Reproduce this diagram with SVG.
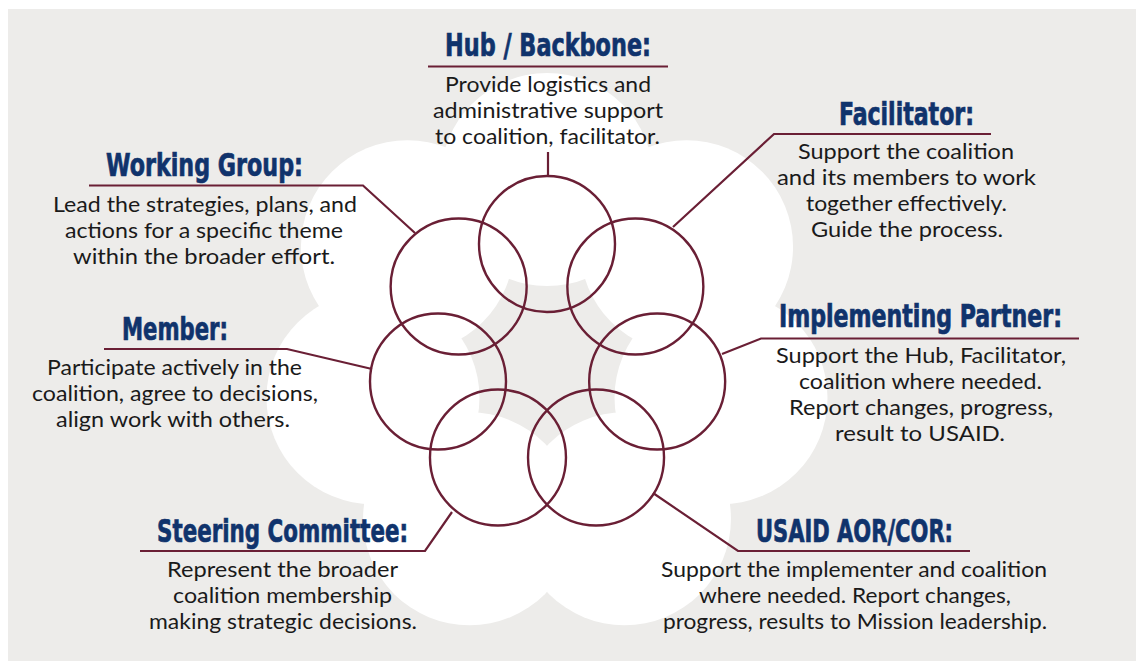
<svg xmlns="http://www.w3.org/2000/svg" width="1136" height="662" viewBox="0 0 1136 662">
<style>
.t{font-family:'DejaVu Sans Condensed','DejaVu Sans',sans-serif;font-stretch:condensed;font-weight:bold;font-size:32px;fill:#10336c;stroke:#10336c;stroke-width:0.7}
.b{font-family:Lato,'Open Sans',sans-serif;font-size:22px;fill:#1a1a1a}
.ln{fill:none;stroke:#6a1f35;stroke-width:2.2}
.c{fill:none;stroke:#6a1f35;stroke-width:2.4}
.p{fill:#ffffff}
</style>
<rect x="8" y="9" width="1128" height="652" fill="#edecea"/>
<g id="flower">
<circle class="p" cx="547" cy="179.5" r="106.5"/>
<circle class="p" cx="686.56" cy="246.71" r="106.5"/>
<circle class="p" cx="721.02" cy="397.72" r="106.5"/>
<circle class="p" cx="624.45" cy="518.82" r="106.5"/>
<circle class="p" cx="469.55" cy="518.82" r="106.5"/>
<circle class="p" cx="372.98" cy="397.72" r="106.5"/>
<circle class="p" cx="407.44" cy="246.71" r="106.5"/>
</g>
<g id="connectors">
<polyline class="ln" points="428,66.5 668,66.5"/>
<line class="ln" x1="548" y1="152" x2="548" y2="176"/>
<polyline class="ln" points="89,185.5 363,185.5 415,233"/>
<polyline class="ln" points="991,134 774,134 673,227"/>
<polyline class="ln" points="104,349 287,349 372,369"/>
<polyline class="ln" points="1079,338.5 761,338.5 722,354"/>
<polyline class="ln" points="140,551 425,551 452,512"/>
<polyline class="ln" points="970,551 738,551 653,493"/>
</g>
<g id="rings">
<circle class="c" cx="547" cy="244" r="68"/>
<circle class="c" cx="635.35" cy="286.55" r="68"/>
<circle class="c" cx="657.17" cy="381.5" r="68"/>
<circle class="c" cx="596.03" cy="457.5" r="68"/>
<circle class="c" cx="497.97" cy="457.5" r="68"/>
<circle class="c" cx="438" cy="381.5" r="68"/>
<circle class="c" cx="458.65" cy="286.55" r="68"/>
</g>
<g id="hub">
<text class="t" x="445" y="56" textLength="206" lengthAdjust="spacingAndGlyphs">Hub / Backbone:</text>
<text class="b" x="445" y="92" textLength="206" lengthAdjust="spacingAndGlyphs">Provide logistics and</text>
<text class="b" x="433" y="118" textLength="230" lengthAdjust="spacingAndGlyphs">administrative support</text>
<text class="b" x="435" y="144" textLength="225" lengthAdjust="spacingAndGlyphs">to coalition, facilitator.</text>
</g>
<g id="working-group">
<text class="t" x="106" y="176" textLength="197" lengthAdjust="spacingAndGlyphs">Working Group:</text>
<text class="b" x="53" y="212" textLength="304" lengthAdjust="spacingAndGlyphs">Lead the strategies, plans, and</text>
<text class="b" x="65" y="238" textLength="278" lengthAdjust="spacingAndGlyphs">actions for a specific theme</text>
<text class="b" x="73" y="264" textLength="262" lengthAdjust="spacingAndGlyphs">within the broader effort.</text>
</g>
<g id="facilitator">
<text class="t" x="839" y="125" textLength="135" lengthAdjust="spacingAndGlyphs">Facilitator:</text>
<text class="b" x="798" y="159" textLength="216" lengthAdjust="spacingAndGlyphs">Support the coalition</text>
<text class="b" x="777" y="185" textLength="259" lengthAdjust="spacingAndGlyphs">and its members to work</text>
<text class="b" x="806" y="211" textLength="201" lengthAdjust="spacingAndGlyphs">together effectively.</text>
<text class="b" x="811" y="237" textLength="192" lengthAdjust="spacingAndGlyphs">Guide the process.</text>
</g>
<g id="member">
<text class="t" x="122" y="340" textLength="106" lengthAdjust="spacingAndGlyphs">Member:</text>
<text class="b" x="47" y="375" textLength="255" lengthAdjust="spacingAndGlyphs">Participate actively in the</text>
<text class="b" x="32" y="401" textLength="286" lengthAdjust="spacingAndGlyphs">coalition, agree to decisions,</text>
<text class="b" x="56" y="427" textLength="234" lengthAdjust="spacingAndGlyphs">align work with others.</text>
</g>
<g id="implementing-partner">
<text class="t" x="779" y="327" textLength="283" lengthAdjust="spacingAndGlyphs" style="font-size:26px;stroke-width:0.6" transform="translate(779,327) scale(1,1.23) translate(-779,-327)">Implementing Partner:</text>
<text class="b" x="776" y="363" textLength="290" lengthAdjust="spacingAndGlyphs">Support the Hub, Facilitator,</text>
<text class="b" x="799" y="389" textLength="243" lengthAdjust="spacingAndGlyphs">coalition where needed.</text>
<text class="b" x="789" y="415" textLength="264" lengthAdjust="spacingAndGlyphs">Report changes, progress,</text>
<text class="b" x="835" y="441" textLength="170" lengthAdjust="spacingAndGlyphs">result to USAID.</text>
</g>
<g id="steering-committee">
<text class="t" x="157" y="542" textLength="251" lengthAdjust="spacingAndGlyphs">Steering Committee:</text>
<text class="b" x="167" y="577" textLength="231" lengthAdjust="spacingAndGlyphs">Represent the broader</text>
<text class="b" x="173" y="603" textLength="219" lengthAdjust="spacingAndGlyphs">coalition membership</text>
<text class="b" x="149" y="629" textLength="268" lengthAdjust="spacingAndGlyphs">making strategic decisions.</text>
</g>
<g id="usaid">
<text class="t" x="756" y="542" textLength="197" lengthAdjust="spacingAndGlyphs">USAID AOR/COR:</text>
<text class="b" x="661" y="577" textLength="386" lengthAdjust="spacingAndGlyphs">Support the implementer and coalition</text>
<text class="b" x="699" y="603" textLength="312" lengthAdjust="spacingAndGlyphs">where needed. Report changes,</text>
<text class="b" x="663" y="629" textLength="384" lengthAdjust="spacingAndGlyphs">progress, results to Mission leadership.</text>
</g>
</svg>
